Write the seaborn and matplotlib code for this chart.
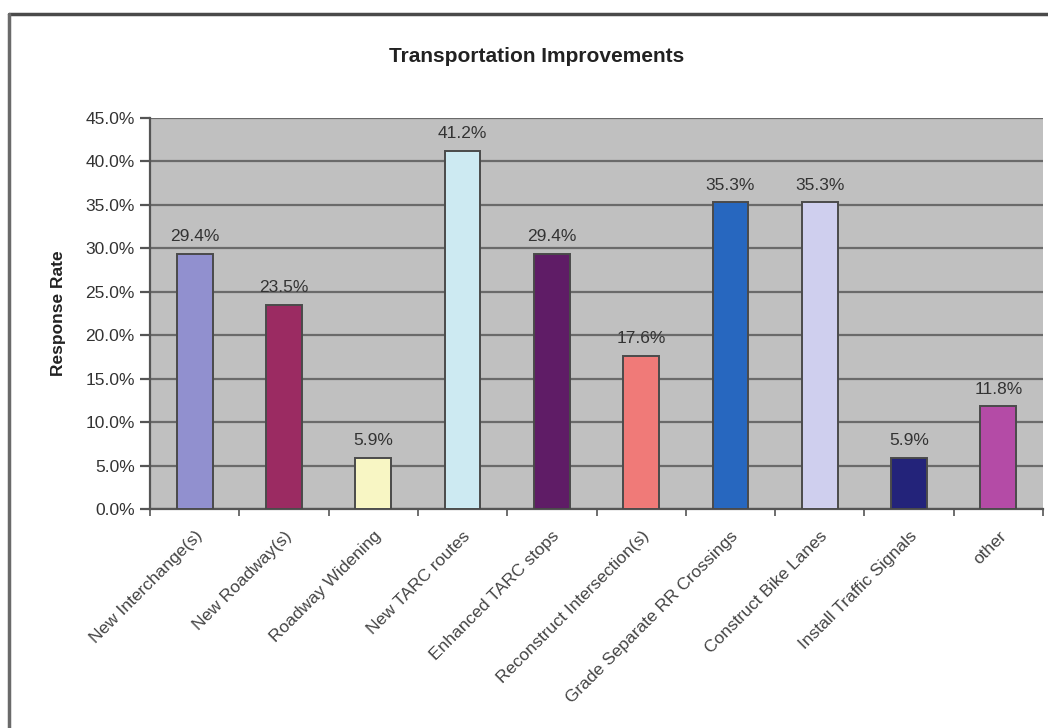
import matplotlib
matplotlib.use("Agg")
import matplotlib.pyplot as plt
from matplotlib.lines import Line2D
from matplotlib.ticker import FuncFormatter, MultipleLocator, FixedLocator
import seaborn as sns
import pandas as pd

categories = [
    "New Interchange(s)",
    "New Roadway(s)",
    "Roadway Widening",
    "New TARC routes",
    "Enhanced TARC stops",
    "Reconstruct Intersection(s)",
    "Grade Separate RR Crossings",
    "Construct Bike Lanes",
    "Install Traffic Signals",
    "other",
]
response_rate = [29.4, 23.5, 5.9, 41.2, 29.4, 17.6, 35.3, 35.3, 5.9, 11.8]
bar_colors = [
    "#9190cf", "#9b2b62", "#f8f6c4", "#cdeaf2", "#5f1c66",
    "#f07a78", "#2767bf", "#cfcfee", "#23237a", "#b44ba6",
]

sns.set_style("white")
plt.rcParams["font.family"] = ["Liberation Sans", "DejaVu Sans"]

df = pd.DataFrame({"category": categories, "rate": response_rate})

fig = plt.figure(figsize=(10.48, 7.28), dpi=100)
ax = fig.add_axes([150 / 1048, 1 - 509 / 728, 893 / 1048, 391 / 728])
ax.set_facecolor("#c0c0c0")

sns.barplot(
    data=df, x="category", y="rate", hue="category",
    palette=bar_colors, saturation=1, legend=False, width=0.40,
    edgecolor="#4a4a4a", linewidth=1.4, ax=ax, zorder=3,
)

ax.set_ylim(0, 45)
ax.set_xlim(-0.5, len(categories) - 0.5)
ax.yaxis.set_major_locator(MultipleLocator(5))
ax.yaxis.set_major_formatter(FuncFormatter(lambda v, _: f"{v:.1f}%"))
ax.grid(axis="y", color="#6a6a6a", linewidth=1.6, zorder=1)
ax.set_axisbelow(True)

for spine in ("top", "right"):
    ax.spines[spine].set_visible(False)
for spine in ("left", "bottom"):
    ax.spines[spine].set_color("#555555")
    ax.spines[spine].set_linewidth(1.6)

ax.tick_params(axis="y", length=7, width=1.6, color="#555555",
               labelsize=12.5, labelcolor="#333333", direction="out", pad=4, left=True)
ax.xaxis.set_minor_locator(FixedLocator([i - 0.5 for i in range(len(categories) + 1)]))
ax.tick_params(axis="x", which="minor", length=5, width=1.2, color="#555555", bottom=True)
ax.tick_params(axis="x", which="major", length=0, pad=14, labelsize=12.5, labelcolor="#444444")
ax.set_xticks(range(len(categories)))
ax.set_xticklabels(categories, rotation=45, ha="right", rotation_mode="anchor")

ax.set_xlabel("")
ax.set_ylabel("Response Rate", fontsize=12.5, fontweight="bold", color="#222222", labelpad=14)

for i, v in enumerate(response_rate):
    ax.annotate(f"{v:.1f}%", (i, v), xytext=(0, 7), textcoords="offset points",
                ha="center", va="bottom", fontsize=12.5, color="#333333", zorder=4)

fig.text(0.5 * (385 + 688) / 1048, 1 - 57 / 728, "Transportation Improvements",
         ha="center", va="center", fontsize=15, fontweight="bold", color="#222222")

# outer chart frame (top and left edges)
fig.add_artist(Line2D([9 / 1048, 1.0], [1 - 14 / 728, 1 - 14 / 728],
                      transform=fig.transFigure, color="#4a4a4a", linewidth=2.5))
fig.add_artist(Line2D([9 / 1048, 9 / 1048], [0.0, 1 - 14 / 728],
                      transform=fig.transFigure, color="#6a6a6a", linewidth=2.5))

fig.savefig("out.png", dpi=100)
